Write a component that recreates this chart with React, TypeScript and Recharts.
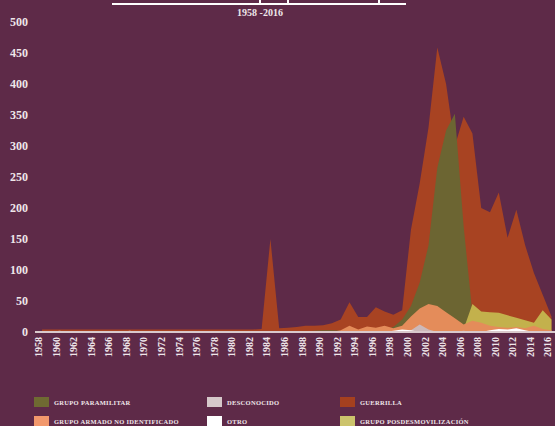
import React from "react"
import { AreaChart, Area, XAxis, YAxis } from "recharts"

const years = [
  1958, 1959, 1960, 1961, 1962, 1963, 1964, 1965, 1966, 1967,
  1968, 1969, 1970, 1971, 1972, 1973, 1974, 1975, 1976, 1977,
  1978, 1979, 1980, 1981, 1982, 1983, 1984, 1985, 1986, 1987,
  1988, 1989, 1990, 1991, 1992, 1993, 1994, 1995, 1996, 1997,
  1998, 1999, 2000, 2001, 2002, 2003, 2004, 2005, 2006, 2007,
  2008, 2009, 2010, 2011, 2012, 2013, 2014, 2015, 2016,
]

// rows of ten years, starting 1958
const guerrilla = [
  4, 4, 4, 4, 4, 4, 4, 4, 4, 4,
  4, 4, 4, 4, 4, 4, 4, 4, 4, 4,
  4, 4, 4, 4, 4, 5, 150, 6, 7, 8,
  10, 10, 11, 14, 20, 48, 24, 24, 40, 33,
  28, 35, 165, 240, 330, 459, 400, 300, 347, 320,
  200, 193, 225, 152, 197, 140, 95, 60, 25,
]

const paramilitar = [
  0, 0, 0, 0, 0, 0, 0, 0, 0, 0,
  0, 0, 0, 0, 0, 0, 0, 0, 0, 0,
  0, 0, 0, 0, 0, 0, 0, 0, 0, 0,
  1, 2, 3, 3, 2, 2, 2, 3, 3, 4,
  8, 20, 42, 80, 140, 265, 325, 352, 170, 30,
  8, 5, 3, 2, 2, 1, 1, 1, 0,
]

const posdesmovilizacion = [
  0, 0, 0, 0, 0, 0, 0, 0, 0, 0,
  0, 0, 0, 0, 0, 0, 0, 0, 0, 0,
  0, 0, 0, 0, 0, 0, 0, 0, 0, 0,
  0, 0, 0, 0, 0, 0, 0, 0, 0, 0,
  0, 0, 0, 0, 0, 0, 0, 0, 5, 45,
  33, 32, 31, 27, 23, 19, 15, 35, 20,
]

const noIdentificado = [
  0, 0, 0, 0, 0, 0, 0, 0, 0, 0,
  0, 0, 0, 0, 0, 0, 0, 0, 0, 0,
  0, 0, 0, 0, 0, 0, 0, 0, 0, 0,
  0, 0, 0, 0, 3, 10, 4, 9, 7, 10,
  6, 10, 25, 38, 45, 42, 32, 22, 12, 18,
  15, 10, 8, 7, 8, 6, 10, 5, 3,
]

const desconocido = [
  0, 0, 2, 0, 0, 0, 0, 0, 0, 0,
  2, 0, 0, 0, 0, 0, 0, 0, 0, 0,
  0, 0, 0, 0, 0, 0, 0, 0, 0, 0,
  0, 0, 0, 0, 0, 0, 0, 0, 0, 0,
  0, 0, 3, 12, 4, 0, 0, 0, 2, 0,
  0, 0, 3, 0, 0, 0, 0, 0, 0,
]

const otro = [
  0, 0, 0, 0, 0, 0, 0, 0, 0, 0,
  0, 0, 0, 0, 0, 0, 0, 0, 0, 0,
  0, 0, 0, 0, 0, 0, 0, 0, 0, 0,
  0, 0, 0, 0, 0, 0, 0, 0, 0, 0,
  2, 4, 3, 0, 0, 0, 0, 0, 0, 0,
  0, 3, 5, 4, 6, 3, 0, 0, 0,
]

const xTicks = [
  1958, 1960, 1962, 1964, 1966, 1968, 1970, 1972, 1974, 1976,
  1978, 1980, 1982, 1984, 1986, 1988, 1990, 1992, 1994, 1996,
  1998, 2000, 2002, 2004, 2006, 2008, 2010, 2012, 2014, 2016,
]
const yTicks = [0, 50, 100, 150, 200, 250, 300, 350, 400, 450, 500]

const data = years.map((year, i) => ({
  year,
  guerrilla: guerrilla[i],
  paramilitar: paramilitar[i],
  posdesmovilizacion: posdesmovilizacion[i],
  noIdentificado: noIdentificado[i],
  desconocido: desconocido[i],
  otro: otro[i],
}))

const BG = "#5E2A48"
const TEXT = "#EFE6EA"
const FONT = "'Liberation Serif', serif"

const legendItems = [
  { label: "GRUPO PARAMILITAR", color: "#6F6A32", left: 34, top: 397 },
  { label: "DESCONOCIDO", color: "#D6C8CA", left: 207, top: 397 },
  { label: "GUERRILLA", color: "#A5401F", left: 340, top: 397 },
  { label: "GRUPO ARMADO NO IDENTIFICADO", color: "#F2986C", left: 34, top: 416 },
  { label: "OTRO", color: "#FFFFFF", left: 207, top: 416 },
  { label: "GRUPO POSDESMOVILIZACIÓN", color: "#CCC36C", left: 340, top: 416 },
]

const XTick = (props: any) => {
  const { x, y, payload } = props
  return (
    <text
      x={x}
      y={y}
      transform={`rotate(-90 ${x} ${y})`}
      textAnchor="end"
      fill={TEXT}
      fontSize={10}
      fontWeight="bold"
      fontFamily={FONT}
    >
      {payload.value}
    </text>
  )
}

export default function App() {
  return (
    <div style={{ position: "absolute", left: 0, top: 0, width: 555, height: 426, background: BG, overflow: "hidden" }}>
      {/* cut-off title underline */}
      <div style={{ position: "absolute", left: 112, top: 3, width: 294, height: 2, background: "#fff" }} />
      <div style={{ position: "absolute", left: 259, top: 0, width: 2, height: 4, background: "#fff" }} />
      <div style={{ position: "absolute", left: 287, top: 0, width: 2, height: 4, background: "#fff" }} />
      <div style={{ position: "absolute", left: 378, top: 0, width: 2, height: 4, background: "#fff" }} />
      <div
        style={{
          position: "absolute",
          left: 200,
          top: 8,
          width: 120,
          textAlign: "center",
          color: TEXT,
          fontFamily: FONT,
          fontWeight: "bold",
          fontSize: 10,
          lineHeight: "10px",
        }}
      >
        1958 -2016
      </div>

      <AreaChart width={555} height={426} data={data} margin={{ top: 22, right: 0, left: 0, bottom: 64 }}>
        <XAxis
          dataKey="year"
          type="number"
          domain={[1957.2, 2016.4]}
          ticks={xTicks}
          interval={0}
          height={30}
          tickLine={false}
          tickSize={0}
          tickMargin={5}
          axisLine={{ stroke: "#D9C9CC", strokeWidth: 2 }}
          tick={<XTick />}
        />
        <YAxis
          domain={[0, 500]}
          ticks={yTicks}
          width={35}
          axisLine={false}
          tickLine={false}
          tickSize={0}
          tickMargin={7}
          tick={{ fill: TEXT, fontSize: 12, fontWeight: "bold", fontFamily: FONT }}
        />
        <Area type="linear" dataKey="guerrilla" stroke="none" fill="#A84322" fillOpacity={1} dot={false} activeDot={false} isAnimationActive={false} />
        <Area type="linear" dataKey="paramilitar" stroke="none" fill="#6C6532" fillOpacity={1} dot={false} activeDot={false} isAnimationActive={false} />
        <Area type="linear" dataKey="posdesmovilizacion" stroke="none" fill="#C3B14C" fillOpacity={1} dot={false} activeDot={false} isAnimationActive={false} />
        <Area type="linear" dataKey="noIdentificado" stroke="none" fill="#E48C5A" fillOpacity={1} dot={false} activeDot={false} isAnimationActive={false} />
        <Area type="linear" dataKey="desconocido" stroke="none" fill="#CDB9B9" fillOpacity={1} dot={false} activeDot={false} isAnimationActive={false} />
        <Area type="linear" dataKey="otro" stroke="none" fill="#FFFFFF" fillOpacity={1} dot={false} activeDot={false} isAnimationActive={false} />
      </AreaChart>

      {legendItems.map((item) => (
        <div key={item.label} style={{ position: "absolute", left: item.left, top: item.top, display: "flex", alignItems: "center" }}>
          <div style={{ width: 15, height: 10, background: item.color }} />
          <span
            style={{
              marginLeft: 5,
              color: TEXT,
              fontFamily: FONT,
              fontWeight: "bold",
              fontSize: 6.5,
              letterSpacing: 0.3,
              whiteSpace: "nowrap",
            }}
          >
            {item.label}
          </span>
        </div>
      ))}
    </div>
  )
}
